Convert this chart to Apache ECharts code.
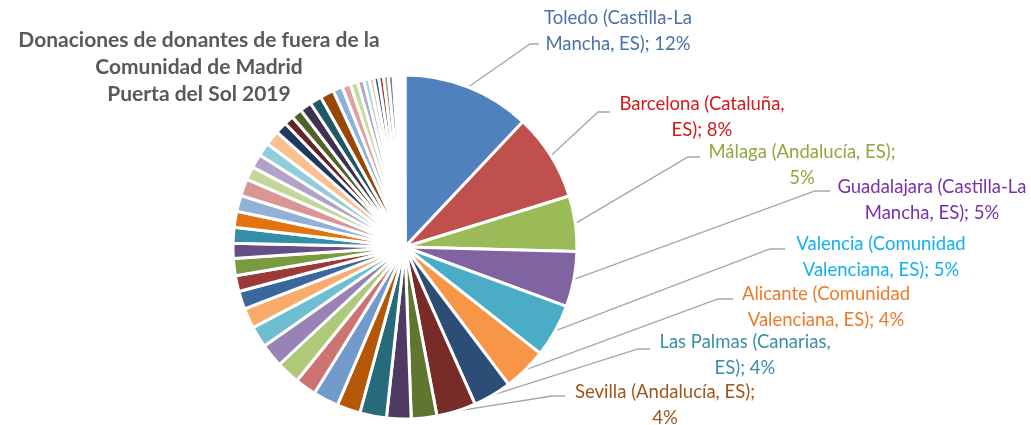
<!DOCTYPE html>
<html>
<head>
<meta charset="utf-8">
<script src="https://cdn.jsdelivr.net/npm/echarts@6/dist/echarts.min.js"></script>
<style>
  html, body { margin: 0; padding: 0; background: #fff; }
  #chart { width: 1031px; height: 425px; }
</style>
</head>
<body>
<div id="chart"></div>
<script>
// provincias con etiqueta (en el orden del gráfico)
const labeledNames = [
  'Toledo (Castilla-La Mancha, ES)',
  'Barcelona (Cataluña, ES)',
  'Málaga (Andalucía, ES)',
  'Guadalajara (Castilla-La Mancha, ES)',
  'Valencia (Comunidad Valenciana, ES)',
  'Alicante (Comunidad Valenciana, ES)',
  'Las Palmas (Canarias, ES)',
  'Sevilla (Andalucía, ES)'
]
// porcentaje de donaciones por provincia
const values = [
  12.0, 8.2, 5.2, 5.2, 5.0, 4.1, 3.6, 3.7,
  2.4, 2.3, 2.5, 2.2, 2.4, 2.0, 2.2, 2.2, 2.0, 1.9,
  1.7, 1.5, 1.6, 1.4, 1.5, 1.5, 1.5, 1.6,
  1.25, 1.3, 1.25, 1.4, 1.1, 0.9, 1.0, 1.1, 1.1, 1.3,
  0.9, 0.8, 0.7, 0.6, 0.5, 0.45, 0.45, 0.45, 0.45, 0.45,
  0.3, 0.25, 0.2, 0.15, 0.1, 0.1
]

const sliceColors = [
  '#4F81BD', '#C0504D', '#9BBB59', '#8064A2', '#4BACC6', '#F79646',
  '#2C4D75', '#772C2A', '#5F7530', '#4D3B62', '#276A7C', '#B65708',
  '#729ACA', '#CD7371', '#AFC97A', '#9983B5', '#6FBDD1', '#F9AB6B',
  '#3A679C', '#9A3B39', '#7A9A3F', '#664F86', '#358EA7', '#E3720F',
  '#92B1D6', '#D99694', '#C3D69B', '#B3A2C7', '#93CDDD', '#FAC090',
  '#1F3A5F', '#632523', '#4F6228', '#3F3151', '#205867', '#974706',
  '#8EB0DC', '#E0A09E', '#C6DB9E', '#B7A6CC', '#9AD6E6', '#FBC595',
  '#3A5E8C', '#9B3C3A', '#8BA855', '#8A78AE', '#5FB6CC', '#F9A25E',
  '#7FA0CC', '#D08482', '#B5CF88', '#A895C0'
]
const labelColors = ['#4A72A8', '#D21A1A', '#8FA83F', '#7A30A8', '#14B0EE', '#EE7A2A', '#3A8FA8', '#A0561A']

// posiciones de las etiquetas: centro del texto, y del tramo horizontal de la guía
const labelPos = [
  { x: 618, y: 31, ty: 44, t0: 530, t1: 539, words: 2 },
  { x: 702, y: 117, ty: 112, t0: 598, t1: 610, words: 2 },
  { x: 802, y: 165, ty: 157, t0: 688, t1: 700, words: 3 },
  { x: 932, y: 200, ty: 191, t0: 815, t1: 830, words: 2 },
  { x: 881, y: 257, ty: 249, t0: 770, t1: 785, words: 2 },
  { x: 826, y: 307, ty: 299, t0: 718, t1: 733, words: 2 },
  { x: 745, y: 355, ty: 349, t0: 638, t1: 650, words: 3 },
  { x: 665, y: 405, ty: 396, t0: 552, t1: 565, words: 3 }
]

const chart = echarts.init(document.getElementById('chart'))

const data = values.map((v, i) => {
  const item = { name: labeledNames[i] || ('Otra ' + (i + 1)), value: v, itemStyle: { color: sliceColors[i] } }
  if (i < labeledNames.length) {
    item.label = { show: true, color: labelColors[i] }
    item.labelLine = { show: true }
  }
  return item
})

const options = {
  animation: false,
  title: {
    text: 'Donaciones de donantes de fuera de la\nComunidad de Madrid\nPuerta del Sol 2019',
    left: 194,
    top: 22,
    textAlign: 'center',
    textStyle: {
      fontFamily: 'Lato',
      fontWeight: 'bold',
      fontSize: 21,
      lineHeight: 27,
      color: '#595959',
      align: 'center'
    }
  },
  series: [
    {
      type: 'pie',
      center: [405, 247],
      radius: [0, 172],
      startAngle: 90,
      clockwise: true,
      avoidLabelOverlap: false,
      data: data,
      itemStyle: {
        borderColor: '#fff',
        borderWidth: 3
      },
      label: {
        show: false,
        position: 'outside',
        fontFamily: 'Lato',
        fontSize: 18.5,
        lineHeight: 26,
        align: 'center',
        formatter: (p) => {
          const pos = labelPos[p.dataIndex]
          if (!pos) return ''
          const words = (p.name + '; ' + Math.round(p.percent) + '%').split(' ')
          return words.slice(0, pos.words).join(' ') + '\n' + words.slice(pos.words).join(' ')
        }
      },
      labelLine: {
        show: false,
        lineStyle: { color: '#A6A6A6', width: 1.3 }
      },
      labelLayout: (params) => {
        const pos = labelPos[params.dataIndex]
        if (!pos) return {}
        const start = params.labelLinePoints ? params.labelLinePoints[0] : null
        const res = { x: pos.x, y: pos.y, align: 'center', verticalAlign: 'middle' }
        if (start) res.labelLinePoints = [start, [pos.t0, pos.ty], [pos.t1, pos.ty]]
        return res
      }
    }
  ]
}
chart.setOption(options)
</script>
</body>
</html>
